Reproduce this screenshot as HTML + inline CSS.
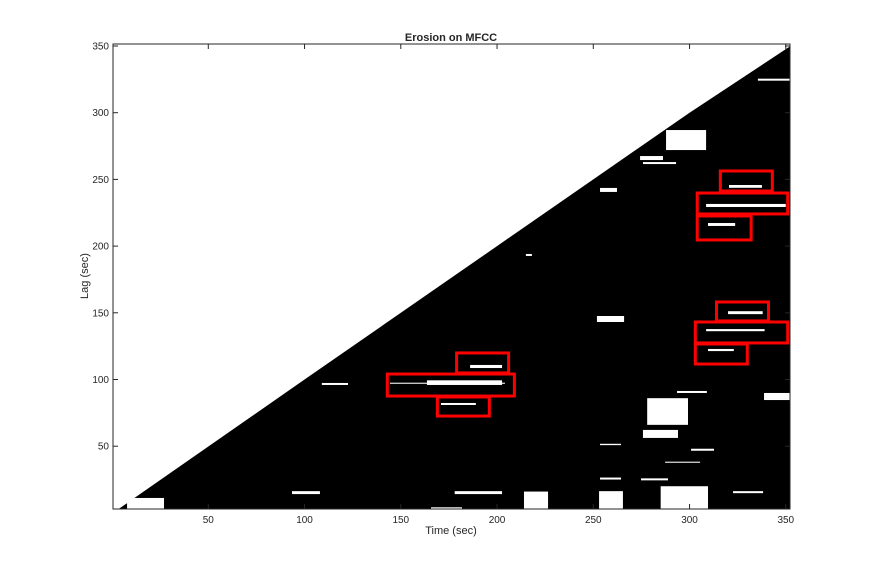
<!DOCTYPE html>
<html><head><meta charset="utf-8"><style>
body{margin:0;background:#fff;}
svg text{font-family:"Liberation Sans",sans-serif;fill:#262626;}
</style></head><body>
<svg id="chart" width="874" height="573" viewBox="0 0 874 573" xmlns="http://www.w3.org/2000/svg">
<g id="plot"></g>
<g id="axes"></g>
<text x="451" y="41" font-size="11" font-weight="bold" text-anchor="middle">Erosion on MFCC</text>
<text x="451" y="534" font-size="11" text-anchor="middle">Time (sec)</text>
<text x="88" y="276" font-size="11" text-anchor="middle" transform="rotate(-90 88 276)">Lag (sec)</text>
</svg>
<script>
const diagT = [0.5, 100, 200, 262, 300, 352.5];
const diagL = [0, 100, 200, 262, 300, 350];
const blobs = [
[7.8,27,2.7,11.2],[93.5,108,14.1,16.3],[178,202.6,14.1,16.3],[165.7,181.8,2.7,4.2],[214,226.5,2.7,16],
[109,122.6,95.9,97.4],[186,202.6,108.6,110.9],[144.4,204.1,96.8,97.6],[163.6,202.6,95.9,99.4],[170.9,189,80.9,82.4],
[320.5,337.6,243.7,245.8],[308.6,350,229.3,231.6],[309.6,323.7,215.1,217.3],[320,338,149,151.2],[308.6,339,136.2,137.8],
[309.6,323,121.3,122.9],[251.9,266,143.1,147.6],[287.8,308.6,272,287],[274.3,286.2,264.5,267.5],[275.8,293,261.5,263],
[253.5,262.3,240.6,243.6],[338.7,352,84.6,89.9],[278,299.2,66,86],[275.8,294,56.2,62.2],[293.5,309,89.9,91.4],
[253.5,264.4,50.8,51.8],[285,309.6,2.7,20],[253,265.4,2.7,16.3],[322.6,338.2,14.8,16.3],[253.5,264.4,25,26.5],
[274.8,288.8,24.4,25.9],[287.3,305.5,37.6,38.4],[300.8,312.7,46.6,48.1],[335.5,352.5,324,325.5],[215,218.1,192.6,194.1]
];
const boxes = [
[179,206,104.9,119.9],[143,209,87.6,104.1],[169,196,72.6,86.9],
[316,343,241.3,256.3],[304,351,224.1,239.8],[304,332,204.6,222.6],
[314,341,143.9,158.1],[303,351,127.4,143.1],[303,330,111.6,126.6]
];
const xTicks = [50,100,150,200,250,300,350];
const yTicks = [50,100,150,200,250,300,350];
const X0=113,X1=790,Y0=44,Y1=509;
const sx=t=>113+(t-0.5)*1.925;
const sy=l=>112.7+(300-l)*1.334;
const NS='http://www.w3.org/2000/svg';
const plot=document.getElementById('plot'),axes=document.getElementById('axes');
function mk(tag,a,p){const e=document.createElementNS(NS,tag);for(const k in a)e.setAttribute(k,a[k]);p.appendChild(e);return e;}
const cp=mk('clipPath',{id:'clip'},plot);mk('rect',{x:X0,y:Y0,width:X1-X0,height:Y1-Y0},cp);
const g=mk('g',{'clip-path':'url(#clip)'},plot);
let pts=`${X0},${Y1} `;
for(let i=0;i<diagT.length;i++)pts+=`${sx(diagT[i])},${sy(diagL[i])} `;
pts+=`${X1},${Y1}`;
const poly=mk('polygon',{points:pts,fill:'#000'},g);


blobs.forEach(b=>{
 const r=mk('rect',{x:sx(b[0]),y:sy(b[3]),width:sx(b[1])-sx(b[0]),height:Math.max(1,sy(b[2])-sy(b[3])),fill:'#fff'},g);
 
 
});
boxes.forEach(b=>{
 const r=mk('rect',{x:sx(b[0]),y:sy(b[3]),width:sx(b[1])-sx(b[0]),height:sy(b[2])-sy(b[3]),fill:'none',stroke:'#f00','stroke-width':3},g);
 
 
});
const fr=mk('rect',{x:X0,y:Y0,width:X1-X0,height:Y1-Y0,fill:'none',stroke:'#262626','stroke-width':1},axes);


xTicks.forEach(t=>{const x=sx(t);
 mk('line',{x1:x,x2:x,y1:Y1,y2:Y1-5,stroke:'#262626'},axes);
 mk('line',{x1:x,x2:x,y1:Y0,y2:Y0+5,stroke:'#262626'},axes);
 const tx=mk('text',{x:x,y:Y1+14,'font-size':10,'text-anchor':'middle'},axes);tx.textContent=t;
 
 
});
yTicks.forEach(l=>{const y=sy(l);
 mk('line',{x1:X0,x2:X0+5,y1:y,y2:y,stroke:'#262626'},axes);
 mk('line',{x1:X1,x2:X1-5,y1:y,y2:y,stroke:'#262626'},axes);
 const tx=mk('text',{x:X0-4,y:y+3.5,'font-size':10,'text-anchor':'end'},axes);tx.textContent=l;
 
 
});
</script>
</body></html>
